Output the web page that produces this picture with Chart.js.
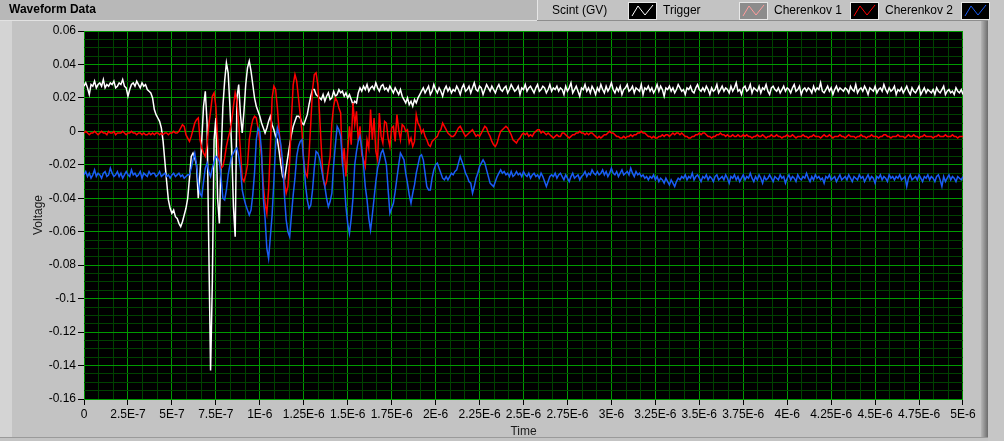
<!DOCTYPE html>
<html>
<head>
<meta charset="utf-8">
<title>Waveform Data</title>
<script src="https://cdn.jsdelivr.net/npm/chart.js@4.4.0/dist/chart.umd.min.js"></script>
<style>
  html, body { margin: 0; padding: 0; background: #c3c3c3; }
  #wrap { width: 1004px; height: 441px; }
</style>
</head>
<body>
<div id="wrap"><canvas id="graph" width="1004" height="441"></canvas></div>
<script>
// waveform time base: one sample every 10 ns, 0 .. 5E-6 s
const SAMPLE_DT = 1e-8;

const seriesNames = ['Scint (GV)', 'Trigger', 'Cherenkov 1', 'Cherenkov 2'];

// values in mV
const scintMv = [
  27, 29, 26, 22, 28, 27, 30, 26, 28, 29,
  27, 31, 26, 28, 27, 29, 28, 30, 26, 27,
  29, 28, 31, 27, 26, 21, 25, 28, 29, 27,
  30, 28, 26, 29, 27, 28, 25, 24,
  23, 20, 13, 10, 8, 6, 2, -6, -18, -30,
  -41, -46, -49, -47, -51, -52, -55, -57, -54, -50,
  -46, -40, -28, -15, -13, -16, -20, -40, -25, -5,
  15, 24, 5, -70, -143, -90, -5, 8, -40, -55,
  -15, 15, 30, 41, 35, 15, -10, -45, -63, 20,
  28, 10, -1, 12, 28, 38, 42, 36, 28, 20,
  15, 12, 9, 5, 2, -1, 2, 6, 9, 4,
  1, -3, -5, -12, -20, -27, -29, -22, -15, -8,
  -2, 3, 6, 9, 9, 8, 5, 4, 7, 10,
  16, 21, 25, 25, 22, 21, 20,
  19, 22, 18, 21, 23, 19, 20, 24, 21, 22, 25, 23,
  24, 21, 23, 20, 22, 19,
  16, 18, 17,
  23, 26, 24, 27, 25, 28, 24, 26, 27, 25, 29, 26, 24, 27, 28, 25, 26, 24, 27, 25, 23, 26, 24, 22, 25,
  21, 19, 17, 20, 16, 18, 15, 19, 17, 20, 22, 24,
  26, 23, 25, 27, 22, 24, 28, 25, 23, 26, 24, 21, 25, 27, 24, 26, 23, 25,
  24, 27, 25, 22, 26, 28, 24, 25, 27, 23,
  26, 29, 25, 24, 27, 26, 22, 25, 28, 26,
  24, 27, 25, 23, 26, 28, 25, 24, 26, 27,
  23, 25, 28, 26, 24, 25, 27, 22, 26, 25,
  28, 24, 26, 27, 25, 23, 26, 28, 24, 25,
  27, 26, 23, 25, 28, 24, 26, 25, 27, 24,
  26,
  25, 22, 27, 24, 26, 29, 23, 25, 27, 24,
  21, 26, 25, 28, 24, 26, 23, 27, 25, 22,
  26, 24, 28, 25, 23, 27, 24, 26, 29, 25,
  23, 26, 24, 27, 22, 25, 26, 28, 24, 25,
  27, 23, 26, 25, 24, 28, 22, 26, 25, 27,
  24, 26, 23, 25, 28, 24, 27, 25, 21, 26,
  25, 27, 24, 26, 23, 25, 28, 26, 24, 25,
  22, 26, 25, 27, 24, 23, 26, 28, 25, 24,
  26, 24, 27, 25, 22, 26, 24, 25, 28, 23,
  25, 27, 24, 26, 25, 23, 27, 24, 26, 29,
  24, 25, 22, 26, 27, 24, 25, 28, 23, 26,
  25, 24, 27, 23, 26, 25, 28, 24, 22, 26,
  27, 25, 24, 26, 23, 25, 27, 24, 26, 25,
  23, 26, 28, 24, 25, 27, 22, 25, 26, 24,
  26, 25, 23, 27, 24, 26, 25, 29, 24, 23,
  25, 27, 24, 26, 22, 25, 27, 24, 26, 25,
  24, 26, 25, 23, 27, 25, 24, 28, 23, 25,
  26, 24, 27, 25, 22, 26, 25, 24, 27, 23,
  25, 26, 24, 28, 25, 23, 26, 24, 25, 27,
  22, 25, 24, 26, 23, 25, 27, 24, 22, 26,
  24, 23, 25, 27, 22, 24, 26, 23, 25, 24,
  23, 25, 22, 26, 24, 23, 25, 27, 22, 24,
  25, 23, 24, 22, 26, 24, 23, 25, 22
];

// Trigger has no visible trace in the picture
const triggerMv = [];

const cherenkov1Mv = [
  -1, 0, -1, -2, -1, -1, 0, -1, -2, -1,
  0, -1, -1, -2, 0, -1, -1, 0, -2, -1,
  -1, -1, 0, -1, -2, -1, -1, 0, -1, -1,
  -2, -1, -1, -2, -1, -2, -2, -1, -2, -1,
  -2, -1, -1, -2, -1, -2, -1, -1, -2, -1,
  -1, 0, -1, -1, 0,
  2, 4, 3, -2, -4, -6, -3, 1, 5, 7,
  8, -5, -10, -13, -15, -8, 4, 12, 21, 23,
  15, -4, -18, -22, -21, -16, -9, -4, 0, 6,
  15, 23, 18, 5, -12, -28, -30, -26, -20, -5,
  2, 7, 9, 8, 2, -6, -15, -32, -43, -49,
  -35, -10, 20, 27, 25, 14, 0, -12, -21, -30,
  -37, -33, -18, 8, 28, 34, 30, 20, 10, 0,
  -18, -25, -27, -14, 5, 25, 34, 35, 28, 10,
  -10, -28, -33, -30, -22, -15, 5, 15, 20, 18,
  14, 11, -21, -10, -27, -12, 3, -8, 17, 4,
  12, -6, 3, -14, -17, -21, -5, -10, 13, -5,
  8, -12, -17, 11, -3, -7, 6, 5, -4, -9,
  2, 3, -6, 10, 1, -5, 4, 3, 0, 1,
  -7, -4, -9, -6, 10, 5, 3, -1, 1, -3,
  -5, -8, -9, -6, -5, -4, -3, 0, 1, 5,
  3, 1, -1, -2, -3, -3, -2, 0, 2, 3,
  1, -1, -3, -2, -1, 0, 1, -1, -3, -2,
  -3, -1, 1, 3, 2, -1, -3, -6, -8, -9,
  -7, -3, 0, 1, 2, 3, 2, 0, -2, -5,
  -6, -7, -5, -4, -2, -1, -2, -1, -3, -2,
  -3, -1, 0, 1, 1, -1, 0, -1, -2, -1,
  -2, -3, -4, -3, -2, -3, -3,
  -1, -1, -2, -3, -4, -3, -2, -2, -1, -1,
  0, -1, -1, -2, -1, -2, -1, -1, -2, -3,
  -4, -3, -4, -3, -2, -2, -1, 0, -1, -1,
  -2, -3, -3, -4, -4, -3, -4, -3, -3, -2,
  -3, -2, -2, -1, -1, 0, -1, -1, -2, -3,
  -3, -4, -3, -4, -4, -3, -3, -2, -3, -2,
  -2, -3, -2, -1, -2, -1, -1, -2, -1, -2,
  -3, -3, -4, -4, -3, -3, -2, -2, -1, -2,
  -1, -1, -2, -3, -3, -4, -3, -3, -2, -2,
  -1, -2, -2, -3, -2, -3, -3, -2, -3, -3,
  -2, -3, -3, -2, -3, -2, -3, -3, -4, -3,
  -3, -2, -3, -3, -2, -3, -4, -3, -3, -2,
  -3, -3, -2, -3, -3, -4, -3, -3, -2, -3,
  -3, -2, -3, -4, -3, -3, -3, -2, -3, -3,
  -4, -3, -3, -2, -3, -3, -3, -4, -3, -2,
  -3, -3, -2, -3, -4, -3, -3, -3, -2, -3,
  -3, -4, -3, -2, -3, -3, -3, -4, -3, -3,
  -2, -3, -3, -4, -3, -3, -2, -3, -3, -3,
  -4, -3, -3, -2, -2, -3, -3, -4, -3, -3,
  -3, -2, -3, -3, -3, -4, -3, -2, -3, -3,
  -2, -3, -3, -4, -3, -3, -2, -3, -3, -3,
  -3, -4, -3, -3, -2, -3, -3, -3, -2, -3,
  -3, -3, -2, -3, -3, -4, -3, -3, -3
];

const cherenkov2Mv = [
  -26, -24, -27, -25, -28, -26, -23, -27, -25, -26,
  -28, -25, -24, -27, -26, -22, -25, -27, -26, -24,
  -27, -25, -28, -26, -24, -26, -27, -23, -26, -25,
  -27, -26, -24, -28, -25, -26, -27, -24, -26, -25,
  -25, -27, -26, -24, -27, -26, -25, -27, -26, -28,
  -26, -25, -27, -26, -25, -27, -26, -28, -27, -26,
  -26, -22, -17, -13, -20, -30, -37, -39, -30, -22,
  -19, -24, -27, -22, -18, -15, -16, -18, -28, -40,
  -41, -35, -26, -20, -15, -13, -11, -10, -15, -22,
  -35, -40, -44, -47, -50, -47, -38, -25, -5, 2,
  0, -12, -40, -52, -70, -76, -63, -50, -30, -8,
  2, -2, -8, -18, -38, -53, -60, -63, -50, -38,
  -28, -15, -9, -6, -5, -18, -32, -41, -46, -44,
  -35, -22, -12, -13, -16, -22, -28, -33, -40, -45,
  -42, -37, -20, -8, 3, 1, -3, -18, -30, -45,
  -55, -61, -52, -40, -20, -12, -6, -3, -10, -20,
  -33, -41, -52, -59, -50, -40, -30, -22, -18, -13,
  -11, -15, -20, -35, -49, -46, -43, -36, -28, -20,
  -13, -15, -17, -25, -31, -38, -43, -37, -32, -25,
  -20, -15, -14, -17, -25, -33, -35, -35, -28, -23,
  -20, -19, -22, -25, -28, -29, -27, -29, -27, -25,
  -26, -24, -23, -19, -15, -18, -21, -25, -27, -30,
  -31, -37, -33, -28, -25, -21, -19, -17, -19, -23,
  -27, -31, -32, -33, -30, -27, -25, -23, -25, -24,
  -26, -25, -27, -24, -27, -26, -24, -26, -25, -27,
  -24, -26, -27, -25, -28, -26, -25, -27, -26, -28,
  -25, -27, -30, -33, -30, -27, -26, -27, -25, -28,
  -26, -25,
  -27, -29, -26, -28, -30, -27, -25, -28, -27, -26,
  -29, -27, -26, -24, -27, -25, -26, -23, -25, -26,
  -24, -26, -25, -23, -26, -24, -27, -25, -22, -25,
  -26, -24, -27, -25, -23, -26, -25, -24, -26, -22,
  -25, -27, -24, -26, -25, -27, -26, -28, -27, -29,
  -27, -28, -26, -29, -27, -30, -28, -29, -31, -28,
  -30, -32, -29, -31, -33, -30, -28, -29, -27, -28,
  -26, -29, -27, -28, -25, -29, -27, -26, -28, -30,
  -27, -28, -26, -29, -27, -28, -30, -27, -26, -29,
  -28, -27, -29, -26, -28, -31, -27, -28, -26, -29,
  -27, -30, -28, -26, -29, -27, -28, -25, -28, -30,
  -27, -29, -26, -28, -31, -27, -29, -28, -26, -28,
  -30, -27, -28, -29, -26, -28, -27, -31, -28, -26,
  -29, -27, -28, -30, -26, -28, -29, -27, -28, -25,
  -28, -30, -27, -29, -26, -28, -27, -29, -28, -31,
  -27, -28, -26, -29, -28, -27, -30, -28, -26, -29,
  -28, -27, -29, -26, -28, -30, -27, -28, -29, -26,
  -28, -27, -30, -28, -26, -29, -27, -28, -31, -27,
  -28, -26, -29, -27, -28, -30, -26, -28, -27, -29,
  -27, -28, -26, -29, -28, -27, -33, -28, -26, -29,
  -28, -27, -29, -26, -28, -30, -27, -28, -26, -29,
  -27, -28, -30, -27, -26, -29, -33, -27, -30, -28,
  -26, -29, -27, -28, -30, -27, -28, -29, -27
];

// axes
const X_MIN = 0, X_MAX = 5e-6, X_MAJOR = 2.5e-7, X_MINOR_PER_MAJOR = 3;
const Y_MIN = -0.16, Y_MAX = 0.06, Y_MAJOR = 0.02, Y_MINOR_PER_MAJOR = 4;

const TRACE_COLORS = ['#ffffff', '#ff9c9c', '#ff0000', '#1a5cf5'];
const SWATCH_BG = ['#000000', '#8c8c8c', '#000000', '#000000'];
const GRID_MAJOR = '#009a00';
const GRID_MINOR = '#004200';
const FONT = '"Liberation Sans", Arial, sans-serif';

function toPoints(mv) {
  return mv.map((v, i) => ({ x: i * SAMPLE_DT, y: v / 1000 }));
}

function buildTicks(min, max, major, perMajor) {
  const n = Math.round((max - min) / major * perMajor);
  const out = [];
  for (let k = 0; k <= n; k++) {
    out.push({ value: min + k * major / perMajor, isMajor: k % perMajor === 0 });
  }
  return out;
}

function timeLabel(v) {
  const micro = Math.round(v * 1e8) / 100;
  if (micro === 0) return '0';
  if (micro < 1) return Math.round(micro * 1000) / 100 + 'E-7';
  return micro + 'E-6';
}

const gridOpts = {
  color: c => (c.tick && c.tick.isMajor ? GRID_MAJOR : GRID_MINOR),
  tickColor: c => (c.tick && c.tick.isMajor ? '#000000' : 'rgba(0,0,0,0)'),
  lineWidth: 1,
  tickLength: 6,
  drawTicks: true
};

// panel, title bar and legend the LabVIEW way
const labviewFrame = {
  id: 'labviewFrame',
  beforeDraw(chart) {
    const { ctx, chartArea: a, width, height } = chart;
    ctx.save();
    ctx.fillStyle = '#c3c3c3';
    ctx.fillRect(0, 0, width, height);
    ctx.fillStyle = '#b8b8b8';
    ctx.fillRect(0, 0, 988, 20);
    ctx.fillStyle = '#e2e2e2';
    ctx.fillRect(0, 20, 988, 1);
    ctx.fillStyle = '#d4d4d4';
    ctx.fillRect(0, 21, 12, 416);
    const g = ctx.createLinearGradient(981, 0, 988, 0);
    g.addColorStop(0, '#b6b6b6');
    g.addColorStop(1, '#6c6c6c');
    ctx.fillStyle = g;
    ctx.fillRect(981, 21, 7, 417);
    ctx.fillStyle = '#c6c6c6';
    ctx.fillRect(988, 0, width - 988, height);
    ctx.fillStyle = '#9a9a9a';
    ctx.fillRect(0, 437, 988, 1);
    ctx.fillStyle = '#000000';
    ctx.fillRect(a.left, a.top, a.right - a.left, a.bottom - a.top);

    ctx.fillStyle = '#000000';
    ctx.font = 'bold 12px ' + FONT;
    ctx.textBaseline = 'middle';
    ctx.textAlign = 'left';
    ctx.fillText('Waveform Data', 9, 10);
    ctx.restore();
  },
  afterDraw(chart) {
    const { ctx } = chart;
    ctx.save();
    // legend box
    ctx.fillStyle = '#c3c3c3';
    ctx.fillRect(537, 0, 451, 20);
    ctx.fillStyle = '#e6e6e6';
    ctx.fillRect(537, 0, 1, 21);
    ctx.fillStyle = '#8e8e8e';
    ctx.fillRect(537, 20, 451, 1);

    ctx.font = '12px ' + FONT;
    ctx.textBaseline = 'middle';
    ctx.textAlign = 'left';
    chart.data.datasets.forEach((ds, k) => {
      const tx = 552 + 111 * k;
      const sx = tx + 77;
      ctx.fillStyle = '#000000';
      ctx.fillText(ds.label, tx, 11);
      ctx.fillStyle = SWATCH_BG[k];
      ctx.fillRect(sx, 3, 27, 16);
      ctx.strokeStyle = '#e8e8e8';
      ctx.lineWidth = 1;
      ctx.strokeRect(sx - 0.5, 2.5, 28, 17);
      ctx.strokeStyle = ds.borderColor;
      ctx.beginPath();
      ctx.moveTo(sx + 3, 16);
      ctx.lineTo(sx + 9, 6);
      ctx.lineTo(sx + 16, 15);
      ctx.lineTo(sx + 24, 5);
      ctx.stroke();
    });
    ctx.restore();
  }
};

Chart.defaults.font.family = FONT;
Chart.defaults.font.size = 12;
Chart.defaults.color = '#000000';

const allSeries = [scintMv, triggerMv, cherenkov1Mv, cherenkov2Mv];

new Chart(document.getElementById('graph'), {
  type: 'line',
  data: {
    datasets: allSeries.map((mv, k) => ({
      label: seriesNames[k],
      data: toPoints(mv),
      borderColor: TRACE_COLORS[k],
      borderWidth: 1.5,
      pointRadius: 0,
      tension: 0,
      fill: false,
      order: allSeries.length - 1 - k
    }))
  },
  options: {
    responsive: false,
    animation: false,
    devicePixelRatio: 1,
    parsing: false,
    normalized: true,
    layout: { autoPadding: false, padding: { left: 0, right: 41, top: 31, bottom: 0 } },
    plugins: { legend: { display: false }, tooltip: { enabled: false } },
    scales: {
      x: {
        type: 'linear',
        min: X_MIN,
        max: X_MAX,
        afterBuildTicks: s => { s.ticks = buildTicks(X_MIN, X_MAX, X_MAJOR, X_MINOR_PER_MAJOR); },
        afterFit: s => { s.height = 42; },
        grid: gridOpts,
        border: { display: false },
        ticks: {
          autoSkip: false,
          maxRotation: 0,
          minRotation: 0,
          padding: 2,
          color: '#000000',
          callback: (v, i, ticks) => (ticks[i].isMajor ? timeLabel(v) : '')
        },
        title: { display: true, text: 'Time', color: '#1a1a1a', padding: { top: 0, bottom: 2 } }
      },
      y: {
        type: 'linear',
        min: Y_MIN,
        max: Y_MAX,
        afterBuildTicks: s => { s.ticks = buildTicks(Y_MIN, Y_MAX, Y_MAJOR, Y_MINOR_PER_MAJOR); },
        afterFit: s => { s.width = 84; },
        grid: gridOpts,
        border: { display: false },
        ticks: {
          autoSkip: false,
          padding: 2,
          color: '#000000',
          callback: (v, i, ticks) => (ticks[i].isMajor ? String(+v.toFixed(3)) : '')
        },
        title: { display: true, text: 'Voltage', color: '#1a1a1a', padding: { top: 31, bottom: 0 } }
      }
    }
  },
  plugins: [labviewFrame]
});
</script>
</body>
</html>
